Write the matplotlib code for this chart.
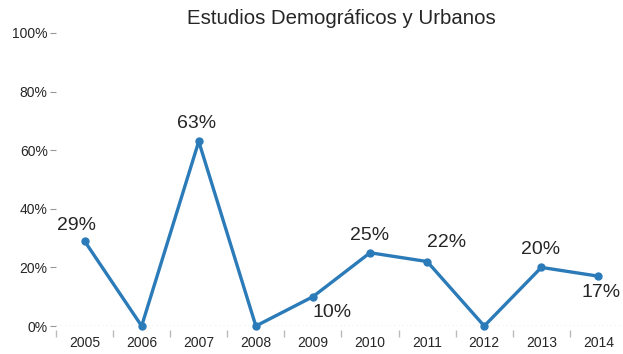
import matplotlib
matplotlib.use("Agg")
import matplotlib.pyplot as plt
from matplotlib.ticker import FixedLocator

plt.rcParams['font.family'] = ['Liberation Sans', 'DejaVu Sans']

years = ["2005", "2006", "2007", "2008", "2009", "2010", "2011", "2012", "2013", "2014"]
values = [0.29, 0.0, 0.63, 0.0, 0.10, 0.25, 0.22, 0.0, 0.20, 0.17]
y_ticks = [0.0, 0.2, 0.4, 0.6, 0.8, 1.0]
y_tick_labels = ["0%", "20%", "40%", "60%", "80%", "100%"]
title = "Estudios Demográficos y Urbanos"

# label offsets in pixels for each non-zero point
label_offsets = {0: (-8, 16), 2: (-2, 18), 4: (19, -16), 5: (0, 17),
                 6: (19, 19), 8: (-1, 18), 9: (3, -16)}

line_color = "#2b7bb9"
text_color = "#262626"
grid_color = "#bbbbbb"

fig = plt.figure(figsize=(6.23, 3.54), dpi=100)
ax = fig.add_axes([56 / 623, 28 / 354, 567 / 623, 293 / 354])

x = list(range(len(years)))
ax.plot(x, values, color=line_color, linewidth=2.4, marker="o",
        markersize=5, clip_on=False, zorder=3)

for i, v in enumerate(values):
    if i in label_offsets:
        dx, dy = label_offsets[i]
        ax.annotate(f"{round(v * 100)}%", (i, v), xytext=(dx, dy),
                    textcoords="offset pixels", ha="center", va="center",
                    fontsize=14, color=text_color)

ax.set_xlim(-0.5, 9.43)
ax.set_ylim(0, 1.0)

# dotted baseline at 0%
ax.axhline(0, color=grid_color, linewidth=1, linestyle=(0, (1, 2)), zorder=1)

for side in ["top", "right", "left"]:
    ax.spines[side].set_visible(False)
ax.spines["bottom"].set_position(("outward", 3))
ax.spines["bottom"].set_visible(False)

ax.set_xticks(x)
ax.set_xticklabels(years)
ax.xaxis.set_minor_locator(FixedLocator([i - 0.5 for i in range(len(years) + 1)]))
ax.tick_params(axis="x", which="major", length=0, pad=4, labelsize=10,
               labelcolor=text_color)
ax.tick_params(axis="x", which="minor", length=5, width=1, color=grid_color,
               direction="out")

ax.set_yticks(y_ticks)
ax.set_yticklabels(y_tick_labels)
ax.tick_params(axis="y", length=4, width=0.8, color="#999999", pad=2,
               labelsize=10, labelcolor=text_color)

fig.text(341 / 623, 1 - 18 / 354, title, ha="center", va="center",
         fontsize=14.7, color=text_color)

fig.savefig("out.png", dpi=100)
